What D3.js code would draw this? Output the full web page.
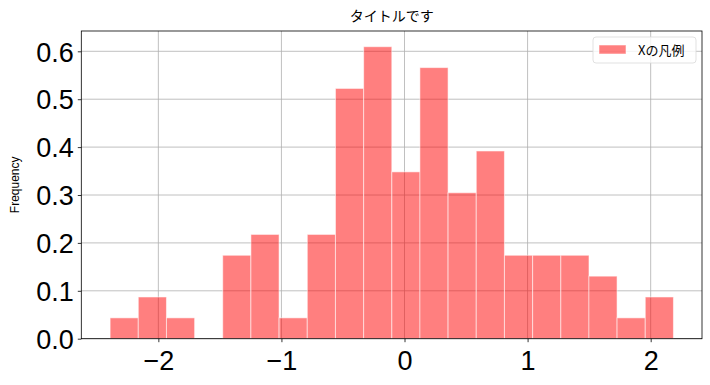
<!DOCTYPE html>
<html>
<head>
<meta charset="utf-8">
<script src="https://cdn.jsdelivr.net/npm/d3@7"></script>
<style>
  html, body { margin: 0; padding: 0; background: #fff; }
  svg { display: block; }
  text { font-family: "Noto Sans CJK JP", "Noto Sans", sans-serif; }
</style>
</head>
<body>
<svg id="chart" width="710" height="385"></svg>
<script>
// ---- data ----
const binStarts = [-2.392, -2.163, -1.934, -1.705, -1.477, -1.248, -1.019, -0.790, -0.561, -0.332,
                   -0.103, 0.125, 0.354, 0.583, 0.812, 1.041, 1.270, 1.498, 1.727, 1.956];
const binWidth = 0.2288;
const density = [0.0435, 0.0871, 0.0435, 0, 0.1742, 0.2177, 0.0435, 0.2177, 0.5225, 0.6096,
                 0.3483, 0.5660, 0.3048, 0.3919, 0.1742, 0.1742, 0.1742, 0.1306, 0.0435, 0.0871];
const xTicks = [-2, -1, 0, 1, 2];
const yTicks = [0.0, 0.1, 0.2, 0.3, 0.4, 0.5, 0.6];
const titleText = "タイトルです";
const yLabel = "Frequency";
const legendLabel = "Xの凡例";

// ---- layout ----
const svg = d3.select("#chart");
const L = 81.3, R = 702, T = 31, B = 338.7;
const x = d3.scaleLinear().domain([-2.626, 2.417]).range([L, R]);
const y = d3.scaleLinear().domain([0, 0.6424]).range([B, T]);

// grid
const grid = svg.append("g");
grid.selectAll("line.v").data(xTicks).join("line")
  .attr("x1", d => x(d)).attr("x2", d => x(d)).attr("y1", T).attr("y2", B)
  .attr("stroke", "#b0b0b0").attr("stroke-width", 0.8);
grid.selectAll("line.h").data(yTicks).join("line")
  .attr("x1", L).attr("x2", R).attr("y1", d => y(d)).attr("y2", d => y(d))
  .attr("stroke", "#b0b0b0").attr("stroke-width", 0.8);

// bars
const bars = binStarts.map((s, i) => ({x0: s, x1: s + binWidth, v: density[i]})).filter(d => d.v > 0);
svg.append("g").selectAll("rect").data(bars).join("rect")
  .attr("x", d => x(d.x0)).attr("width", d => x(d.x1) - x(d.x0))
  .attr("y", d => y(d.v)).attr("height", d => y(0) - y(d.v))
  .attr("fill", "rgba(255,0,0,0.5)")
  .attr("stroke", "rgba(255,255,255,0.55)").attr("stroke-width", 1);

// axes
const xAxis = svg.append("g").attr("transform", `translate(0,${B})`)
  .call(d3.axisBottom(x).tickValues(xTicks).tickSize(3.5).tickPadding(4)
    .tickFormat(d => d < 0 ? "\u2212" + Math.abs(d) : String(d)));
const yAxis = svg.append("g").attr("transform", `translate(${L},0)`)
  .call(d3.axisLeft(y).tickValues(yTicks).tickSize(3.5).tickPadding(4)
    .tickFormat(d3.format(".1f")));
[xAxis, yAxis].forEach(a => {
  a.select(".domain").remove();
  a.selectAll("line").attr("stroke", "#000").attr("stroke-width", 0.8);
  a.selectAll("text").attr("fill", "#000").style("font-size", "27px")
   .style("font-family", '"Liberation Sans", Arial, sans-serif');
});
xAxis.selectAll("text").attr("dy", "0.9em");
yAxis.selectAll("text").attr("dy", "0.36em");

// frame
svg.append("rect").attr("x", L).attr("y", T).attr("width", R - L).attr("height", B - T)
  .attr("fill", "none").attr("stroke", "#000").attr("stroke-width", 0.8);

// title
svg.append("text").attr("x", (L + R) / 2).attr("y", 21).attr("text-anchor", "middle")
  .style("font-size", "14px").attr("fill", "#000").text(titleText);

// y label
svg.append("text").attr("transform", `translate(19,${(T + B) / 2}) rotate(-90)`)
  .attr("text-anchor", "middle").style("font-size", "12px")
  .style("font-family", '"Liberation Sans", Arial, sans-serif').attr("fill", "#000").text(yLabel);

// legend
const lg = svg.append("g");
lg.append("rect").attr("x", 593).attr("y", 37).attr("width", 103).attr("height", 26).attr("rx", 3)
  .attr("fill", "rgba(255,255,255,0.8)").attr("stroke", "#d9d9d9").attr("stroke-width", 0.8);
lg.append("rect").attr("x", 599).attr("y", 45).attr("width", 27).attr("height", 9)
  .attr("fill", "rgba(255,0,0,0.5)").attr("stroke", "rgba(255,255,255,0.55)");
lg.append("text").attr("x", 638).attr("y", 54.5).style("font-size", "13px").attr("fill", "#000").text(legendLabel);
</script>
</body>
</html>
